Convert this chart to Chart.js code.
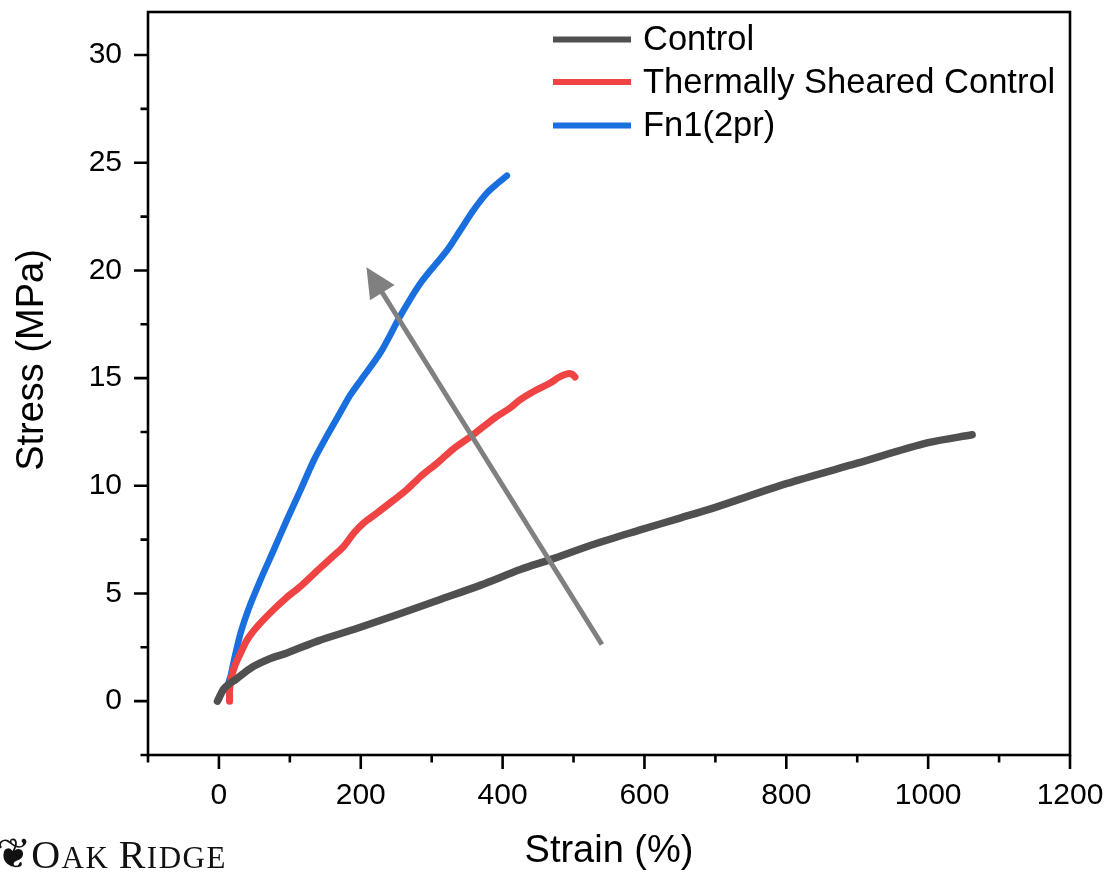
<!DOCTYPE html>
<html><head><meta charset="utf-8">
<script src="https://cdn.jsdelivr.net/npm/chart.js@4.4.1/dist/chart.umd.min.js"></script>
<style>
html,body{margin:0;padding:0;background:#fff;}
#wrap{position:relative;width:1109px;height:872px;overflow:hidden;background:#fff;}
#logo{position:absolute;left:-4px;top:834px;line-height:40px;font-family:'Liberation Serif','DejaVu Serif',serif;color:#111;white-space:nowrap;letter-spacing:1.5px;}
#logo .ic{font-family:'DejaVu Sans',sans-serif;font-size:42px;letter-spacing:0;margin-right:0px;}
</style></head><body>
<div id="wrap"><canvas id="c" width="1109" height="872"></canvas>
<div id="logo"><span class="ic">❦</span><span style="font-size:40px">O</span><span style="font-size:31px">AK </span><span style="font-size:40px">R</span><span style="font-size:31px">IDGE</span></div></div>
<script>
// ---- data ----
const controlStrain = [-2, 7, 16.5, 23.5, 35, 49, 70, 96, 140, 190, 250, 312, 370, 425, 467, 530, 594, 650, 700, 800, 900, 1000, 1062];
const controlStress = [0, 0.58, 0.85, 1.0, 1.3, 1.62, 1.95, 2.24, 2.8, 3.33, 4.0, 4.72, 5.4, 6.11, 6.57, 7.3, 7.95, 8.5, 9.0, 10.1, 11.05, 12.0, 12.37];

const shearedStrain = [15, 15, 17, 22, 30, 40, 55, 77, 95, 115, 140, 160, 176, 190, 205, 223, 245, 265, 285, 308, 330, 355, 375, 392, 410, 425, 445, 467, 480, 491, 498, 502];
const shearedStress = [0, 0.5, 1.0, 1.6, 2.2, 2.86, 3.5, 4.25, 4.8, 5.33, 6.1, 6.7, 7.19, 7.8, 8.3, 8.74, 9.3, 9.82, 10.45, 11.06, 11.7, 12.29, 12.8, 13.22, 13.6, 14.0, 14.4, 14.77, 15.05, 15.2, 15.18, 15.05];

const fn1Strain = [12, 14, 16.5, 22, 30.6, 42, 58.7, 77, 96, 115, 134, 152, 171, 185, 200, 228, 256, 284, 322, 340, 359, 378, 395, 406];
const fn1Stress = [0.5, 0.9, 1.16, 2.0, 3.17, 4.3, 5.64, 7.0, 8.43, 9.8, 11.2, 12.3, 13.4, 14.2, 14.9, 16.2, 17.9, 19.4, 20.95, 21.85, 22.8, 23.6, 24.1, 24.4];

const seriesLabels = ['Control', 'Thermally Sheared Control', 'Fn1(2pr)'];
const xMajorTicks = [0, 200, 400, 600, 800, 1000, 1200];
const xMinorTicks = [-100, 100, 300, 500, 700, 900, 1100];
const yMajorTicks = [0, 5, 10, 15, 20, 25, 30];
const yMinorTicks = [-2.5, 2.5, 7.5, 12.5, 17.5, 22.5, 27.5];
const arrowFrom = [540, 2.63];
const arrowTo = [208, 20.15];

const toPts = (xs, ys) => xs.map((v, i) => ({x: v, y: ys[i]}));
const FONT = "'Liberation Sans', Arial, sans-serif";

const decor = {
  id: 'decor',
  afterDatasetsDraw(chart) {
    const {ctx, scales: {x, y}} = chart;
    const x0 = x.getPixelForValue(arrowFrom[0]), y0 = y.getPixelForValue(arrowFrom[1]);
    const x1 = x.getPixelForValue(arrowTo[0]), y1 = y.getPixelForValue(arrowTo[1]);
    const ang = Math.atan2(y1 - y0, x1 - x0);
    const L = 30, W = 14.5;
    const bx = x1 - L * Math.cos(ang), by = y1 - L * Math.sin(ang);
    ctx.save();
    ctx.strokeStyle = '#808080'; ctx.fillStyle = '#808080'; ctx.lineWidth = 5;
    ctx.beginPath(); ctx.moveTo(x0, y0); ctx.lineTo(bx + 2 * Math.cos(ang), by + 2 * Math.sin(ang)); ctx.stroke();
    ctx.beginPath();
    ctx.moveTo(x1, y1);
    ctx.lineTo(bx + W * Math.sin(ang), by - W * Math.cos(ang));
    ctx.lineTo(bx - W * Math.sin(ang), by + W * Math.cos(ang));
    ctx.closePath(); ctx.fill();
    ctx.restore();
  },
  afterDraw(chart) {
    const {ctx, chartArea: a, scales: {x, y}} = chart;
    ctx.save();
    ctx.strokeStyle = '#000'; ctx.lineWidth = 2.6; ctx.lineCap = 'butt';
    ctx.strokeRect(a.left, a.top, a.right - a.left, a.bottom - a.top);
    ctx.beginPath();
    xMajorTicks.forEach(v => { const p = x.getPixelForValue(v); ctx.moveTo(p, a.bottom); ctx.lineTo(p, a.bottom + 14); });
    xMinorTicks.forEach(v => { const p = x.getPixelForValue(v); ctx.moveTo(p, a.bottom); ctx.lineTo(p, a.bottom + 7.5); });
    yMajorTicks.forEach(v => { const p = y.getPixelForValue(v); ctx.moveTo(a.left, p); ctx.lineTo(a.left - 14, p); });
    yMinorTicks.forEach(v => { const p = y.getPixelForValue(v); ctx.moveTo(a.left, p); ctx.lineTo(a.left - 7.5, p); });
    ctx.stroke();
    // axis titles
    ctx.fillStyle = '#000';
    ctx.font = '38px ' + FONT;
    ctx.textAlign = 'center'; ctx.textBaseline = 'middle';
    ctx.fillText('Strain (%)', (a.left + a.right) / 2, 852);
    ctx.save();
    ctx.translate(33, 360); ctx.rotate(-Math.PI / 2);
    ctx.fillText('Stress (MPa)', 0, 0);
    ctx.restore();
    // legend
    const rows = [39.5, 82, 125.5];
    ctx.font = '34.5px ' + FONT;
    ctx.textAlign = 'left';
    chart.data.datasets.forEach((ds, i) => {
      ctx.strokeStyle = ds.borderColor; ctx.lineWidth = 6;
      ctx.beginPath(); ctx.moveTo(553, rows[i]); ctx.lineTo(631, rows[i]); ctx.stroke();
      ctx.fillStyle = '#000';
      ctx.fillText(ds.label, 643, rows[i] + 1);
    });
    ctx.restore();
  }
};

new Chart(document.getElementById('c'), {
  type: 'scatter',
  data: {
    datasets: [
      {label: seriesLabels[0], data: toPts(controlStrain, controlStress), borderColor: '#505050', borderWidth: 7.5},
      {label: seriesLabels[1], data: toPts(shearedStrain, shearedStress), borderColor: '#f04343', borderWidth: 7},
      {label: seriesLabels[2], data: toPts(fn1Strain, fn1Stress), borderColor: '#1a6fdf', borderWidth: 6.5}
    ].map(d => Object.assign(d, {showLine: true, pointRadius: 0, pointHoverRadius: 0, tension: 0.3, fill: false, borderCapStyle: 'round', borderJoinStyle: 'round'}))
  },
  options: {
    responsive: false,
    animation: false,
    events: [],
    layout: {padding: {left: 0, top: 12, right: 39, bottom: 0}},
    plugins: {legend: {display: false}, tooltip: {enabled: false}, title: {display: false}},
    scales: {
      x: {
        type: 'linear', min: -100, max: 1200,
        afterBuildTicks: s => { s.ticks = xMajorTicks.map(v => ({value: v})); },
        afterFit: s => { s.height = 117; s.paddingLeft = 0; s.paddingRight = 0; },
        ticks: {font: {size: 30, family: FONT}, color: '#000', padding: 9, maxRotation: 0, autoSkip: false, callback: v => String(v)},
        grid: {drawOnChartArea: false, drawTicks: true, tickLength: 14, color: 'rgba(0,0,0,0)'},
        border: {display: false},
        title: {display: false}
      },
      y: {
        type: 'linear', min: -2.5, max: 32,
        afterBuildTicks: s => { s.ticks = yMajorTicks.map(v => ({value: v})); },
        afterFit: s => { s.width = 148; s.paddingTop = 0; s.paddingBottom = 0; },
        ticks: {font: {size: 30, family: FONT}, color: '#000', padding: 12, autoSkip: false, callback: v => String(v)},
        grid: {drawOnChartArea: false, drawTicks: true, tickLength: 14, color: 'rgba(0,0,0,0)'},
        border: {display: false},
        title: {display: false}
      }
    }
  },
  plugins: [decor]
});
</script>
</body></html>
